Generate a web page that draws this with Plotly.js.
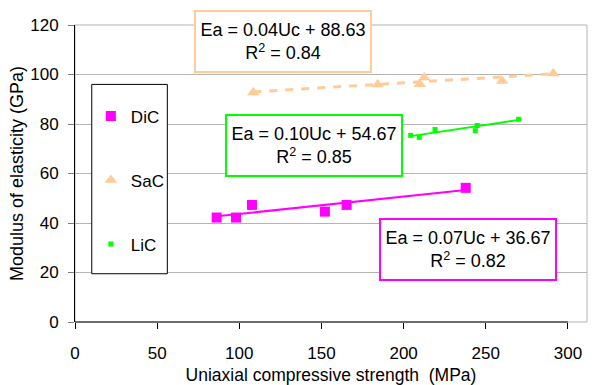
<!DOCTYPE html>
<html>
<head>
<meta charset="utf-8">
<script src="https://cdn.plot.ly/plotly-3.0.1.min.js"></script>
<style>html,body{margin:0;padding:0;background:#fff;}#chart{width:603px;height:385px;}</style>
</head>
<body>
<div id="chart"></div>
<script>
// ---- data ----
var seriesNames = ["DiC", "SaC", "LiC"];
var dicX = [86.2, 98.0, 107.7, 152.1, 165.3, 237.8];
var dicY = [42.2, 42.2, 47.3, 44.6, 47.3, 54.2];
var sacX = [108.5, 184.2, 209.9, 212.6, 260.0, 291.1];
var sacY = [92.7, 96.0, 96.1, 98.8, 97.4, 100.4];
var licX = [204.3, 209.5, 219.1, 243.6, 244.8, 270.0];
var licY = [75.4, 74.6, 77.8, 77.3, 79.4, 81.9];
// trendline equations as printed on the chart (DiC, SaC, LiC)
var slopes = [0.07, 0.04, 0.10];
var intercepts = [36.67, 88.63, 54.67];
var r2 = [0.82, 0.84, 0.85];
var xTicks = [0, 50, 100, 150, 200, 250, 300];

var colors = ["#FF00FF", "#FFCC99", "#00FF00"];
var xs = [dicX, sacX, licX], ys = [dicY, sacY, licY];
var symbols = ["square", "triangle-up", "square"];
var sizes = [10, 11, 5];

var traces = [];
for (var i = 0; i < 3; i++) {
  traces.push({
    type: "scatter", mode: "markers", name: seriesNames[i], x: xs[i], y: ys[i],
    legendgroup: seriesNames[i],
    marker: {symbol: symbols[i], size: sizes[i], color: colors[i], line: {width: 0}},
    cliponaxis: false
  });
}
for (var i = 0; i < 3; i++) {
  var x0 = Math.min.apply(null, xs[i]), x1 = Math.max.apply(null, xs[i]);
  traces.push({
    type: "scatter", mode: "lines", showlegend: false, hoverinfo: "skip",
    x: [x0, x1], y: [slopes[i] * x0 + intercepts[i], slopes[i] * x1 + intercepts[i]],
    line: {color: colors[i], width: i === 1 ? 3 : 2, dash: i === 1 ? "8px,8px" : "solid"}
  });
}
// put trendlines below markers
traces = traces.slice(3).concat(traces.slice(0, 3));

function eqText(i) {
  return "Ea = " + slopes[i].toFixed(2) + "Uc + " + intercepts[i].toFixed(2) +
         "<br>R<sup>2</sup> = " + r2[i].toFixed(2);
}
var boxPos = [[239.3, 29.2], [126.3, 113.3], [145.3, 71.4]];
var annotations = [];
for (var i = 0; i < 3; i++) {
  annotations.push({
    xref: "x", yref: "y", x: boxPos[i][0], y: boxPos[i][1], showarrow: false,
    text: eqText(i), align: "center", valign: "middle",
    width: 174, height: 59, borderpad: 0,
    bgcolor: "#ffffff", bordercolor: colors[i], borderwidth: 2,
    font: {family: "Liberation Sans, Arial, sans-serif", size: 18, color: "#000"}
  });
}

var layout = {
  width: 603, height: 385,
  margin: {l: 75, r: 16, t: 25, b: 63},
  paper_bgcolor: "#ffffff", plot_bgcolor: "#ffffff",
  font: {family: "Liberation Sans, Arial, sans-serif", size: 17, color: "#000"},
  showlegend: true,
  legend: {x: 0.031, y: 0.753, xanchor: "left", yanchor: "top",
           bgcolor: "rgba(0,0,0,0)", borderwidth: 0,
           traceorder: "grouped", tracegroupgap: 39,
           font: {size: 17, color: "#000"}},
  xaxis: {
    range: [0, 311.6], tickmode: "array", tickvals: xTicks, ticktext: xTicks.map(String),
    showgrid: false, zeroline: false, showline: false,
    ticks: "outside", ticklen: 6, tickcolor: "#000", tickwidth: 1,
    ticklabelstandoff: 10, tickfont: {size: 17},
    title: {text: "Uniaxial compressive strength\u00a0\u00a0(MPa)", standoff: 7, font: {size: 17.5}}
  },
  yaxis: {
    range: [0, 120], dtick: 20, tick0: 0,
    showgrid: true, gridcolor: "#b4b4b4", gridwidth: 1,
    zeroline: false, showline: true, linecolor: "#000", linewidth: 1,
    ticks: "outside", ticklen: 6, tickcolor: "#808080",
    ticklabelstandoff: 6, tickfont: {size: 17},
    title: {text: "Modulus of elasticity (GPa)", standoff: 1, font: {size: 18}}
  },
  shapes: [
    {type: "rect", xref: "paper", yref: "paper", x0: 0, x1: 1, y0: 0, y1: 1,
     line: {color: "#b4b4b4", width: 1}, layer: "below"},
    {type: "line", xref: "x", yref: "paper", x0: 0, x1: 300, y0: 0, y1: 0,
     line: {color: "#000", width: 1}, layer: "above"},
    {type: "rect", xref: "x", yref: "y", x0: 10.2, x1: 56.2, y0: 19.5, y1: 96.0,
     fillcolor: "#ffffff", line: {color: "#000", width: 1}, layer: "above"}
  ],
  annotations: annotations
};

Plotly.newPlot("chart", traces, layout, {displayModeBar: false, staticPlot: true});
</script>
</body>
</html>
